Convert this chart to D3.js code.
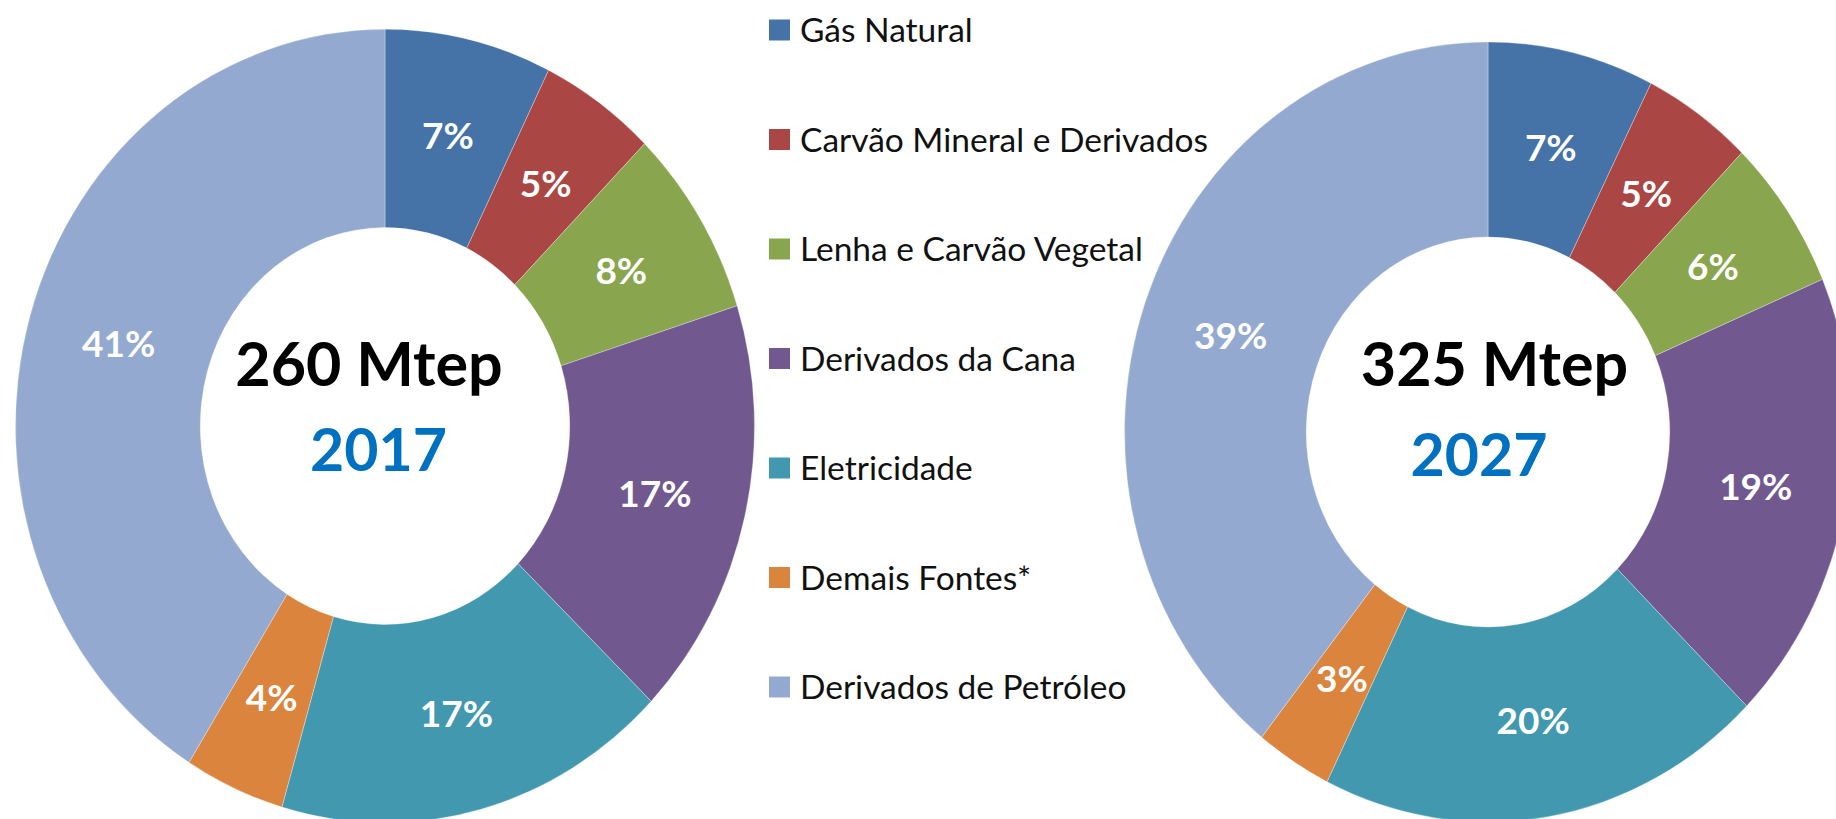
<!DOCTYPE html>
<html>
<head>
<meta charset="utf-8">
<script src="https://cdn.jsdelivr.net/npm/d3@7"></script>
<style>
    html, body { margin: 0; padding: 0; background: #fff; overflow: hidden; }
    svg { display: block; }
    .slice-label { font-family: Lato, sans-serif; font-weight: 700; fill: #fff; }
    .legend-label { font-family: Lato, sans-serif; fill: #111; }
    .total { font-family: Lato, sans-serif; font-weight: 700; }
</style>
</head>
<body>
<svg id="chart"></svg>
<script>
// categories and colours (legend order = slice order)
const categories = [
    'Gás Natural',
    'Carvão Mineral e Derivados',
    'Lenha e Carvão Vegetal',
    'Derivados da Cana',
    'Eletricidade',
    'Demais Fontes*',
    'Derivados de Petróleo'
];
const colors = ['#4572A7', '#AA4643', '#89A54E', '#71588F', '#4198AF', '#DB843D', '#93A9CF'];

// shares (%)
const values2017 = [7.3, 5.1, 7.7, 17.1, 17.3, 4.4, 41.1];
const values2027 = [7.4, 4.9, 6.3, 18.8, 19.9, 3.4, 39.3];

const totals = ['260 Mtep', '325 Mtep'];
const years = ['2017', '2027'];

const width = 1836;
const height = 819;

const svg = d3.select('#chart')
    .attr('width', width)
    .attr('height', height);

// each donut is slightly stretched vertically, as in the original
const donuts = [
    { values: values2017, total: totals[0], year: years[0],
      cx: 385, cy: 426, r: 369.5, ky: 1.074,
      totalPos: [-16, -40], yearPos: [-6.5, 45] },
    { values: values2027, total: totals[1], year: years[1],
      cx: 1488, cy: 432, r: 363.5, ky: 1.073,
      totalPos: [6.5, -46], yearPos: [-9, 44] }
];

const pie = d3.pie().sort(null).value(d => d);
const pct = d3.format('.0%');

for (let donut of donuts) {
    const arc = d3.arc()
        .innerRadius(donut.r * 0.5)
        .outerRadius(donut.r);
    const sum = d3.sum(donut.values);
    const arcs = pie(donut.values);

    svg.append('g')
        .attr('transform', `translate(${donut.cx},${donut.cy}) scale(1,${donut.ky})`)
        .selectAll('path')
        .data(arcs)
        .enter()
        .append('path')
        .attr('d', arc)
        .attr('fill', (d, i) => colors[i])
        .attr('stroke', '#fff')
        .attr('stroke-width', 0.5)
        .attr('stroke-opacity', 0.6);

    svg.append('g')
        .selectAll('text')
        .data(arcs)
        .enter()
        .append('text')
        .attr('class', 'slice-label')
        .attr('text-anchor', 'middle')
        .attr('dy', '0.36em')
        .attr('font-size', 37)
        .attr('x', d => donut.cx + arc.centroid(d)[0])
        .attr('y', d => donut.cy + arc.centroid(d)[1] * donut.ky)
        .text(d => pct(d.value / sum));

    svg.append('text')
        .attr('class', 'total')
        .attr('text-anchor', 'middle')
        .attr('font-size', 61)
        .attr('fill', '#000')
        .attr('x', donut.cx + donut.totalPos[0])
        .attr('y', donut.cy + donut.totalPos[1])
        .text(donut.total);

    svg.append('text')
        .attr('class', 'total')
        .attr('text-anchor', 'middle')
        .attr('font-size', 59)
        .attr('fill', '#0070C0')
        .attr('x', donut.cx + donut.yearPos[0])
        .attr('y', donut.cy + donut.yearPos[1])
        .text(donut.year);
}

// legend
const legend = svg.append('g')
    .attr('transform', 'translate(769,30)');

const rows = legend.selectAll('g')
    .data(categories)
    .enter()
    .append('g')
    .attr('transform', (d, i) => `translate(0,${i * 109.5})`);

rows.append('rect')
    .attr('x', 0)
    .attr('y', -10.5)
    .attr('width', 21)
    .attr('height', 21)
    .attr('fill', (d, i) => colors[i]);

rows.append('text')
    .attr('class', 'legend-label')
    .attr('x', 31)
    .attr('dy', '0.36em')
    .attr('font-size', 33.5)
    .text(d => d);
</script>
</body>
</html>
